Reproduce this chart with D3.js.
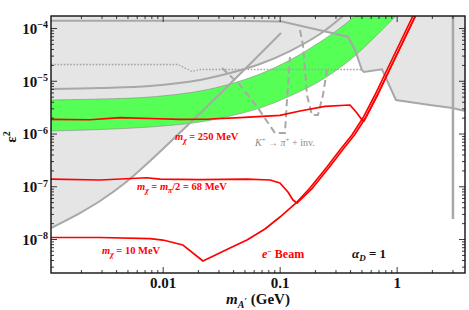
<!DOCTYPE html>
<html><head><meta charset="utf-8">
<script src="https://cdn.jsdelivr.net/npm/d3@7"></script>
<style>
body{margin:0;background:#fff;}
svg{display:block;}
text{font-family:"Liberation Serif","Times New Roman",serif;}
</style>
</head><body>
<svg id="chart" width="469" height="310"></svg>
<script>
// ---------- tick labels ----------
const xMajorTicks = [0.01, 0.1, 1];
const xTickLabels = ["0.01", "0.1", "1"];
const yMajorTicks = [1e-4, 1e-5, 1e-6, 1e-7, 1e-8];
const yTickExponents = ["\u22124", "\u22125", "\u22126", "\u22127", "\u22128"];

// ---------- excluded-region boundaries [m_A' (GeV), eps^2] ----------
const topBound = [[0.00111,1.375e-4],[0.0376,1.375e-4],[0.1046,1.328e-4],[0.3835,6.84e-5],[0.4401,3.83e-5],
  [0.505,1.6e-5],[0.525,1.465e-5],[0.749,1.648e-5],[0.986,4.32e-6],[1.926,3.47e-6],[3.0,3.04e-6],[3.84,2.67e-6]];
const aMuBound = [[0.00111,6.98e-6],[0.00291,7.29e-6],[0.00779,7.95e-6],[0.02084,1.033e-5],[0.0376,1.403e-5],
  [0.0679,2.08e-5],[0.1225,3.66e-5],[0.2211,7.69e-5],[0.3475,1.69e-4]];
const aEBound = [[0.00111,1.617e-8],[0.00196,3.11e-8],[0.00291,5.25e-8],[0.00476,1.152e-7],[0.00779,3.01e-7],
  [0.01711,1.581e-6],[0.04148,1.08e-5],[0.1026,8.04e-5]];
const dottedBound = [[0.00111,2.033e-5],[0.01351,2.033e-5],[0.0178,1.497e-5],[0.02084,1.634e-5],[0.505,1.634e-5]];
const verticalBound = [[3.03,1.69e-4],[3.03,2.394e-8]];
const kaonBoundA = [[0.03212,1.744e-5],[0.04577,8.30e-6],[0.06524,3.04e-6],[0.0912,1.022e-6],[0.111,1.022e-6],[0.1155,4.32e-6],[0.1225,2.82e-5]];
const kaonBoundB = [[0.1491,9.165e-5],[0.1582,4.76e-5],[0.1712,5.37e-6],[0.1888,2.24e-6],[0.2125,2.24e-6],[0.2345,5.37e-6],[0.2537,1.6e-5]];

// ---------- a_mu favoured band ----------
const greenUpper = [[0.00111,4.32e-6],[0.00291,4.51e-6],[0.00779,4.92e-6],[0.02084,6.39e-6],[0.0376,8.68e-6],[0.0679,1.343e-5],
  [0.1225,2.473e-5],[0.2211,5.43e-5],[0.3276,1.0e-4],[0.4401,1.69e-4]];
const greenLower = [[0.00111,1.115e-6],[0.00291,1.191e-6],[0.00779,1.328e-6],[0.02084,1.652e-6],[0.0376,2.147e-6],[0.0679,3.04e-6],
  [0.1225,5.14e-6],[0.2211,9.89e-6],[0.399,2.473e-5],[0.6523,6.75e-5],[0.9863,1.69e-4]];

// ---------- e- beam sensitivity curves ----------
const red10 = [[0.00111,1.068e-8],[0.00291,1.068e-8],[0.00779,1.022e-8],[0.01006,9.57e-9],[0.01491,7.69e-9],[0.02211,3.83e-9],
  [0.0376,6.75e-9],[0.05254,9.57e-9],[0.07487,1.548e-8],[0.1006,2.613e-8],[0.1406,5.03e-8],[0.1815,9.26e-8],[0.2537,2.317e-7],
  [0.3276,4.87e-7],[0.4148,9.37e-7],[0.515,1.967e-6],[0.6523,5.37e-6],[0.8262,1.6e-5],[1.067,5.2e-5],[1.378,1.69e-4],[1.462,2.19e-4]];
const red68 = [[0.00111,1.37e-7],[0.00291,1.314e-7],[0.0073,1.452e-7],[0.00948,1.37e-7],[0.02084,1.342e-7],[0.05254,1.37e-7],
  [0.0826,1.314e-7],[0.1006,1.152e-7],[0.1177,7.78e-8],[0.1299,5.48e-8],[0.1406,4.81e-8],[0.1907,9.26e-8],[0.2665,2.317e-7],
  [0.344,4.87e-7],[0.4355,9.37e-7],[0.5408,1.967e-6],[0.6849,5.37e-6],[0.8675,1.6e-5],[1.12,5.2e-5],[1.447,1.69e-4],[1.535,2.19e-4]];
const red250 = [[0.00111,1.86e-6],[0.00239,1.826e-6],[0.00432,2.01e-6],[0.00779,1.925e-6],[0.01406,1.86e-6],[0.02537,1.883e-6],
  [0.04577,2.01e-6],[0.1006,2.213e-6],[0.1491,2.67e-6],[0.2439,3.28e-6],[0.399,3.47e-6],[0.4578,2.445e-6],[0.4952,1.925e-6],
  [0.5253,1.726e-6],[0.6849,5.37e-6],[0.8675,1.6e-5],[1.12,5.2e-5],[1.447,1.69e-4],[1.535,2.19e-4]];

// ---------- annotation anchors [m, eps^2] ----------
const label250Pos = [0.01274, 7.53e-7];
const label68Pos = [0.006031, 8.49e-8];
const label10Pos = [0.003029, 5.19e-9];
const labelKaonPos = [0.0615, 5.79e-7];
const labelBeamPos = [0.07059, 4.36e-9];
const labelAlphaPos = [0.4148, 4.36e-9];

// ---------- chart ----------
const W = 469, H = 310, M = {l:51, t:16, r:4, b:37};
const svg = d3.select("#chart");
const x = d3.scaleLog().domain([0.00111, 3.84]).range([M.l, W - M.r]);
const y = d3.scaleLog().domain([2.27e-9, 1.69e-4]).range([H - M.b, M.t]);
const [x0, x1] = x.range();
const [yB, yT] = y.range();

svg.append("defs").append("clipPath").attr("id","plotclip")
  .append("rect").attr("x",x0).attr("y",yT).attr("width",x1-x0).attr("height",yB-yT);
const plot = svg.append("g").attr("clip-path","url(#plotclip)");

const GRAYFILL = "#e5e5e5", GRAYLINE = "#a8a8a8";
const lin = d3.line().x(d=>x(d[0])).y(d=>y(d[1]));
const smooth = d3.line().x(d=>x(d[0])).y(d=>y(d[1])).curve(d3.curveCatmullRom.alpha(0.5));
const aboveLin = d3.area().x(d=>x(d[0])).y0(yT - 2).y1(d=>y(d[1]));
const aboveSmooth = d3.area().x(d=>x(d[0])).y0(yT - 2).y1(d=>y(d[1])).curve(d3.curveCatmullRom.alpha(0.5));

// gray excluded regions
plot.append("path").attr("d", aboveLin(topBound)).attr("fill", GRAYFILL);
plot.append("path").attr("d", aboveSmooth(aEBound)).attr("fill", GRAYFILL);
plot.append("path").attr("d", aboveSmooth(aMuBound)).attr("fill", GRAYFILL);

// green band
const bandPath = smooth(greenUpper) + smooth(greenLower.slice().reverse()).replace(/^M/, "L") + "Z";
plot.append("path").attr("d", bandPath).attr("fill", "#55ff55").attr("stroke", "#8a8a8a").attr("stroke-width", 0.6);

// gray boundary lines
plot.append("path").attr("d", lin(dottedBound)).attr("fill","none").attr("stroke","#a4a4a4")
  .attr("stroke-width",1.3).attr("stroke-dasharray","1.6,1.6");
plot.append("path").attr("d", smooth(aEBound)).attr("fill","none").attr("stroke",GRAYLINE).attr("stroke-width",2);
plot.append("path").attr("d", smooth(aMuBound)).attr("fill","none").attr("stroke",GRAYLINE).attr("stroke-width",2);
plot.append("path").attr("d", lin(topBound)).attr("fill","none").attr("stroke",GRAYLINE).attr("stroke-width",2);
plot.append("path").attr("d", lin(verticalBound)).attr("fill","none").attr("stroke",GRAYLINE).attr("stroke-width",2.5);
[kaonBoundA, kaonBoundB].forEach(k => plot.append("path").attr("d", lin(k)).attr("fill","none")
  .attr("stroke",GRAYLINE).attr("stroke-width",2).attr("stroke-dasharray","7,4"));

// red sensitivity curves
[red10, red68, red250].forEach(r => plot.append("path").attr("d", lin(r)).attr("fill","none")
  .attr("stroke","#ff0000").attr("stroke-width",1.7).attr("stroke-linejoin","round"));

// ---------- axes ----------
function minorTicks(lo, hi, dmin, dmax) {
  const out = [];
  for (let d = dmin; d <= dmax; d++) for (let k = 2; k <= 9; k++) {
    const v = k * Math.pow(10, d);
    if (v >= lo && v <= hi) out.push(v);
  }
  return out;
}
const xMinor = minorTicks(x.domain()[0], x.domain()[1], -3, 0);
const yMinor = minorTicks(y.domain()[0], y.domain()[1], -9, -4);

function styleAxis(g) {
  g.select(".domain").remove();
  g.selectAll(".tick line").attr("stroke","#222").attr("stroke-width",0.9);
}
// bottom
svg.append("g").attr("transform",`translate(0,${yB})`)
  .call(d3.axisBottom(x).tickValues(xMinor).tickSize(-3).tickFormat("")).call(styleAxis);
const xAx = svg.append("g").attr("transform",`translate(0,${yB})`)
  .call(d3.axisBottom(x).tickValues(xMajorTicks).tickSize(-6).tickPadding(4).tickFormat((d,i)=>xTickLabels[i]))
  .call(styleAxis);
xAx.selectAll("text").attr("font-family",'"Liberation Serif",serif').attr("font-size",15)
  .attr("font-weight","bold").attr("fill","#111");
// top
svg.append("g").attr("transform",`translate(0,${yT})`)
  .call(d3.axisTop(x).tickValues(xMinor).tickSize(-3).tickFormat("")).call(styleAxis);
svg.append("g").attr("transform",`translate(0,${yT})`)
  .call(d3.axisTop(x).tickValues(xMajorTicks).tickSize(-6).tickFormat("")).call(styleAxis);
// left
svg.append("g").attr("transform",`translate(${x0},0)`)
  .call(d3.axisLeft(y).tickValues(yMinor).tickSize(-3).tickFormat("")).call(styleAxis);
const yAx = svg.append("g").attr("transform",`translate(${x0},0)`)
  .call(d3.axisLeft(y).tickValues(yMajorTicks).tickSize(-6).tickPadding(3).tickFormat(""))
  .call(styleAxis);
yAx.selectAll(".tick text").each(function(d,i){
  const t = d3.select(this).attr("font-family",'"Liberation Serif",serif').attr("font-weight","bold")
    .attr("fill","#111").attr("font-size",15).attr("dy","0.35em");
  t.append("tspan").text("10");
  t.append("tspan").attr("font-size",10).attr("dy","-0.55em").text(yTickExponents[i]);
});
// right
svg.append("g").attr("transform",`translate(${x1},0)`)
  .call(d3.axisRight(y).tickValues(yMinor).tickSize(-3).tickFormat("")).call(styleAxis);
svg.append("g").attr("transform",`translate(${x1},0)`)
  .call(d3.axisRight(y).tickValues(yMajorTicks).tickSize(-6).tickFormat("")).call(styleAxis);

// frame
svg.append("rect").attr("x",x0).attr("y",yT).attr("width",x1-x0).attr("height",yB-yT)
  .attr("fill","none").attr("stroke","#111").attr("stroke-width",1.4);

// ---------- titles ----------
const xt = svg.append("text").attr("x",(x0+x1)/2 ).attr("y",H-6).attr("text-anchor","middle")
  .attr("font-weight","bold").attr("font-size",15).attr("fill","#111");
xt.append("tspan").attr("font-style","italic").text("m");
xt.append("tspan").attr("font-style","italic").attr("font-size",10).attr("dy",4).text("A");
xt.append("tspan").attr("font-size",9).attr("dy",-4).text("\u2032");
xt.append("tspan").attr("dy",0).text(" (GeV)");

const yt = svg.append("text").attr("transform","translate(16,137) rotate(-90)").attr("text-anchor","middle")
  .attr("font-weight","bold").attr("font-size",15).attr("fill","#111");
yt.append("tspan").text("\u03B5");
yt.append("tspan").attr("font-size",10).attr("dy",-6).text("2");

// ---------- annotations ----------
function rich(pos, parts, opts) {
  const t = svg.append("text").attr("x", x(pos[0])).attr("y", y(pos[1]))
    .attr("fill", opts.fill).attr("font-size", opts.size).attr("font-weight", opts.weight || "bold");
  parts.forEach(p => {
    const s = t.append("tspan").text(p.t);
    if (p.i) s.attr("font-style","italic");
    if (p.s) s.attr("font-size", p.s);
    if (p.dy) s.attr("dy", p.dy);
  });
  return t;
}
rich(label250Pos, [{t:"m",i:1},{t:"\u03C7",i:1,s:7.5,dy:2.5},{t:" = 250 MeV",dy:-2.5}], {fill:"#ff0000", size:10.5});
rich(label68Pos, [{t:"m",i:1},{t:"\u03C7",i:1,s:7.5,dy:2.5},{t:" = ",dy:-2.5},{t:"m",i:1},{t:"\u03C0",i:1,s:7.5,dy:2.5},
  {t:"/2 = 68 MeV",dy:-2.5}], {fill:"#ff0000", size:10.5});
rich(label10Pos, [{t:"m",i:1},{t:"\u03C7",i:1,s:7.5,dy:2.5},{t:" = 10 MeV",dy:-2.5}], {fill:"#ff0000", size:10.5});
rich(labelKaonPos, [{t:"K",i:1},{t:"+",s:7,dy:-4},{t:" \u2192 ",dy:4},{t:"\u03C0",i:1},{t:"+",s:7,dy:-4},{t:" + inv.",dy:4}],
  {fill:"#8c8c8c", size:10, weight:"normal"});
rich(labelBeamPos, [{t:"e",i:1},{t:"\u2212",s:8,dy:-4},{t:" Beam",dy:4}], {fill:"#ff0000", size:12});
rich(labelAlphaPos, [{t:"\u03B1",i:1},{t:"D",i:1,s:9,dy:3},{t:" = 1",dy:-3}], {fill:"#111", size:13});
</script>
</body></html>
